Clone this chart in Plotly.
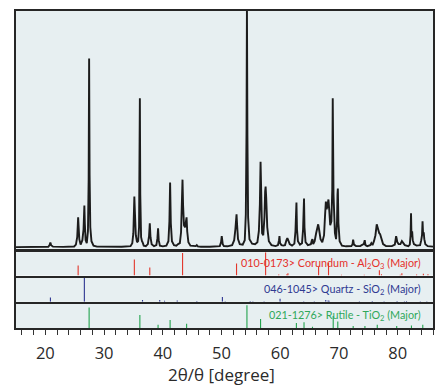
import plotly.graph_objects as go

# ---- measured XRD trace (2theta in degrees, intensity in arbitrary counts) ----
two_theta = [
    15.0, 17.0, 19.0, 20.5, 20.72, 20.85, 20.98, 21.3, 23.0, 24.9, 25.2, 25.42, 25.52, 25.58, 25.65, 25.78, 26.0,
    26.3, 26.5, 26.58, 26.64, 26.72, 26.85, 27.05, 27.25, 27.37, 27.45, 27.53, 27.65, 27.85, 28.2, 28.8,
    31.0, 33.0, 34.5, 34.8, 34.98, 35.08, 35.15, 35.24, 35.4, 35.6, 35.8, 35.95, 36.03, 36.09, 36.16, 36.3,
    36.45, 36.55, 36.75, 37.1, 37.45, 37.65, 37.78, 37.9, 38.1, 38.5, 38.9, 39.08, 39.19, 39.3, 39.5, 40.0,
    40.6, 40.95, 41.12, 41.24, 41.36, 41.55, 41.9, 42.3, 42.6, 42.9, 43.1, 43.25, 43.35, 43.45, 43.6, 43.78,
    43.93, 44.04, 44.15, 44.35, 44.7, 45.2, 45.6, 45.78, 45.95, 46.5,
    48.0, 49.7, 49.92, 50.03, 50.1, 50.2, 50.4, 51.0, 51.8, 52.15, 52.35, 52.47, 52.55, 52.65, 52.8, 53.1,
    53.6, 53.95, 54.13, 54.25, 54.32, 54.4, 54.52, 54.75, 55.2, 55.7, 56.1, 56.35, 56.52, 56.64, 56.75, 56.9,
    57.1, 57.3, 57.42, 57.5, 57.6, 57.78, 58.05, 58.5, 59.2, 59.6, 59.78, 59.86, 59.96, 60.2, 60.5,
    60.8, 61.05, 61.2, 61.35, 61.6, 62.0, 62.4, 62.58, 62.68, 62.75, 62.84, 63.0, 63.35, 63.7, 63.88, 63.98,
    64.04, 64.12, 64.3, 64.7, 65.2, 65.38, 65.48, 65.6, 65.85, 66.1, 66.3, 66.45, 66.6, 66.85, 67.15, 67.45,
    67.62, 67.76, 67.9, 68.05, 68.2, 68.35, 68.5, 68.7, 68.85, 68.93, 68.99, 69.06, 69.15, 69.3, 69.5, 69.66,
    69.74, 69.8, 69.9, 70.1, 70.5, 71.2,
    72.1, 72.3, 72.4, 72.55, 72.9, 73.6, 74.0, 74.2, 74.38, 74.5, 74.8, 75.3, 75.5, 75.7, 75.95, 76.2,
    76.42, 76.55, 76.7, 76.85, 77.0, 77.2, 77.5, 78.0, 79.0, 79.5, 79.72, 79.8, 79.92, 80.15, 80.45, 80.7,
    80.9, 81.2, 81.8, 82.05, 82.18, 82.26, 82.34, 82.45, 82.55, 82.75, 83.2, 83.8, 84.0, 84.13, 84.22, 84.32,
    84.42, 84.52, 84.7, 85.1, 86.0,
]
intensity = [
    2.0, 2.2, 2.0, 2.3, 4.0, 6.5, 4.0, 2.5, 2.2, 2.6, 4.5, 12, 24, 32, 24, 10, 4.5,
    9, 20, 35, 44, 26, 9, 6, 18, 70, 192, 75, 22, 8, 3.5, 2.5,
    2.2, 2.3, 3.0, 6, 16, 40, 53, 38, 14, 7, 8, 22, 70, 152, 55, 12,
    8, 7, 3.5, 3.0, 5, 13, 26, 12, 5, 3, 4, 11, 21, 9, 3.5, 2.8,
    3.5, 8, 28, 67, 26, 8, 4, 3.5, 5, 6, 17, 48, 70, 44, 24, 22,
    28, 32, 18, 7, 3.5, 2.8, 3, 4, 2.8, 2.4,
    2.3, 3, 7, 13, 10, 5, 3, 2.8, 4, 9, 20, 31, 35, 24, 10, 5,
    4.5, 9, 35, 120, 245, 115, 32, 10, 5.5, 5, 7, 18, 45, 88, 42, 16,
    14, 32, 58, 63, 52, 22, 8, 4, 3, 4, 9, 13, 6, 4, 3.5,
    4, 9, 11, 9, 5, 3.5, 5.5, 18, 42, 47, 20, 8, 4.5, 6, 20, 45,
    51, 22, 7, 4, 5, 9, 10, 5, 8, 16, 24, 25, 20, 10, 7, 14,
    34, 48, 40, 45, 50, 38, 24, 28, 60, 152, 70, 55, 40, 16, 10, 28,
    55, 61, 26, 8, 3.5, 2.8,
    3, 5, 9.5, 4.5, 3, 3, 4.5, 5, 9, 4, 3, 4, 6, 4, 8, 14,
    25, 22, 18, 16, 15, 10, 5, 3, 3, 4.5, 13, 11, 7, 5, 5, 8,
    6, 4, 3, 4.5, 14, 36, 12, 18, 9, 5, 3.5, 4, 9, 14, 28, 14,
    17, 10, 5, 3, 2.5,
]

# ---- reference stick patterns (position, relative intensity) ----
corundum_pos = [25.58, 35.15, 37.78, 43.36, 52.55, 57.50, 59.74, 61.12, 61.30, 66.52, 68.21, 70.42,
                74.30, 76.87, 77.23, 80.42, 80.70, 83.21, 84.36, 85.14]
corundum_rel = [0.43, 0.69, 0.34, 0.96, 0.51, 1.0, 0.04, 0.05, 0.10, 0.39, 0.54, 0.03,
                0.03, 0.23, 0.06, 0.03, 0.10, 0.04, 0.08, 0.05]
quartz_pos = [20.86, 26.64, 36.54, 39.47, 40.29, 42.45, 45.79, 50.14, 50.62, 54.87, 55.33, 57.24,
              59.96, 63.99, 65.79, 67.74, 68.14, 68.31, 73.47, 75.66, 77.67, 79.88, 81.14, 81.49,
              83.84, 84.95]
quartz_rel = [0.18, 1.0, 0.08, 0.08, 0.05, 0.06, 0.04, 0.2, 0.03, 0.04, 0.03, 0.03,
              0.13, 0.03, 0.03, 0.08, 0.06, 0.05, 0.03, 0.04, 0.03, 0.04, 0.03, 0.04,
              0.03, 0.03]
rutile_pos = [27.45, 36.09, 39.19, 41.24, 44.05, 54.32, 56.64, 62.74, 64.04, 65.48, 69.01, 69.79,
              72.41, 74.41, 76.51, 79.82, 82.33, 84.26]
rutile_rel = [0.84, 0.53, 0.13, 0.33, 0.17, 0.93, 0.37, 0.2, 0.23, 0.05, 0.49, 0.27,
              0.08, 0.08, 0.13, 0.08, 0.1, 0.13]

phase_labels = [
    "010-0173> Corundum - Al<sub>2</sub>O<sub>3</sub> (Major)",
    "046-1045> Quartz - SiO<sub>2</sub> (Major)",
    "021-1276> Rutile - TiO<sub>2</sub> (Major)",
]
x_title = "2θ/θ [degree]"

BG = "#e7eff1"
BORDER = "#262626"
stick_colors = ["#e2372b", "#2e3591", "#23a34e"]
text_colors = ["#e5302a", "#2f3a92", "#2fa85a"]


def sticks(pos, rel):
    xs, ys = [], []
    for p, r in zip(pos, rel):
        xs += [p, p, None]
        ys += [0, r, None]
    return xs, ys


fig = go.Figure()
fig.add_trace(go.Scatter(x=two_theta, y=intensity, mode="lines",
                         line=dict(color="#1c1c1c", width=1.9), xaxis="x", yaxis="y",
                         hoverinfo="skip", showlegend=False))
for i, (pos, rel) in enumerate([(corundum_pos, corundum_rel), (quartz_pos, quartz_rel),
                                (rutile_pos, rutile_rel)]):
    xs, ys = sticks(pos, rel)
    fig.add_trace(go.Scatter(x=xs, y=ys, mode="lines",
                             line=dict(color=stick_colors[i], width=1.1),
                             xaxis="x%d" % (i + 2), yaxis="y%d" % (i + 2),
                             hoverinfo="skip", showlegend=False))

# page body adds an 8px offset; figure is sized to fit inside the window
OFF = 8
H = 319.0
BOTTOM_PX = 328
def dom(top_px, bot_px):
    return [(BOTTOM_PX - bot_px) / H, (BOTTOM_PX - top_px) / H]

domains = [dom(9, 248.6), dom(251.7, 275.2), dom(277.5, 301.7), dom(303.4, 328)]

ax_common = dict(range=[15, 86], showgrid=False, zeroline=False, showline=True,
                 linecolor=BORDER, linewidth=1.5, mirror=True, fixedrange=True)
layout = dict(
    width=446 - OFF, height=391 - OFF,
    margin=dict(l=16 - OFF, r=13, t=9 - OFF, b=63, pad=0),
    paper_bgcolor="white", plot_bgcolor=BG,
    font=dict(family="Open Sans, sans-serif", color="#222"),
)
for i in range(4):
    key = "xaxis" if i == 0 else "xaxis%d" % (i + 1)
    ykey = "yaxis" if i == 0 else "yaxis%d" % (i + 1)
    xa = dict(ax_common)
    xa["anchor"] = "y" if i == 0 else "y%d" % (i + 1)
    if i > 0:
        xa["matches"] = "x"
    if i == 3:
        xa.update(ticks="outside", ticklen=5, tickwidth=1, tickcolor="#333",
                  dtick=10, tick0=0, showticklabels=True,
                  tickfont=dict(size=16.5, family="Open Sans, sans-serif", color="#2a2a2a"),
                  ticklabelstandoff=4,
                  minor=dict(ticks="outside", ticklen=5, tickwidth=1, tickcolor="#333",
                             dtick=2, tick0=0))
    else:
        xa.update(showticklabels=False, ticks="")
    layout[key] = xa
    ya = dict(domain=domains[i], showgrid=False, zeroline=False, showline=True,
              linecolor=BORDER, linewidth=1.5, mirror=True, showticklabels=False,
              ticks="", fixedrange=True,
              anchor="x" if i == 0 else "x%d" % (i + 1))
    ya["range"] = [0, 240] if i == 0 else [0, 1.0]
    layout[ykey] = ya

annotations = []
for i, lab in enumerate(phase_labels):
    annotations.append(dict(
        text=lab, xref="paper", x=(422.5 - 16) / 417, xanchor="right",
        yref="y%d domain" % (i + 2), y=0.5, yanchor="middle", showarrow=False,
        font=dict(size=10.8, color=text_colors[i], family="Lato, sans-serif")))
annotations.append(dict(
    text=x_title, xref="paper", x=0.494, xanchor="center",
    yref="paper", y=(BOTTOM_PX - 375) / H, yanchor="middle", showarrow=False,
    font=dict(size=17, color="#2a2a2a", family="Open Sans, sans-serif")))
layout["annotations"] = annotations

fig.update_layout(**layout)
fig.write_html("out.html")
